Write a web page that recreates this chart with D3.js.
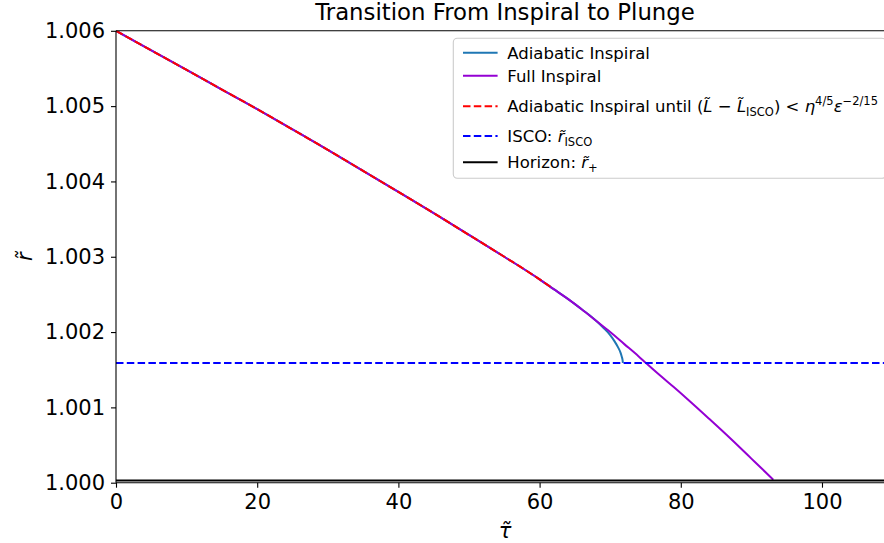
<!DOCTYPE html>
<html>
<head>
<meta charset="utf-8">
<script src="https://cdn.jsdelivr.net/npm/d3@7"></script>
<style>
  html, body { margin: 0; padding: 0; background: #fff; }
  svg { display: block; font-family: "DejaVu Sans", sans-serif; }
</style>
</head>
<body>
<svg id="chart" width="884" height="543"></svg>
<script>
// values (tau, r)
const adiabaticTau = [0, 5, 10, 15, 20, 25, 30, 35, 40, 45, 50, 55, 60, 62, 64, 66, 67, 68, 69, 70, 70.6, 71.1, 71.45, 71.65, 71.75, 71.8];
const adiabaticR = [1.006, 1.00574, 1.00548, 1.00522, 1.00496, 1.00469, 1.00442, 1.00414, 1.00386, 1.00358, 1.00329, 1.003, 1.0027, 1.00257, 1.00244, 1.0023, 1.00223, 1.00215, 1.00206, 1.00196, 1.00188, 1.0018, 1.00173, 1.00167, 1.00163, 1.00159];

const fullTau = [0, 5, 10, 15, 20, 25, 30, 35, 40, 45, 50, 55, 60, 62, 64, 66, 68, 70, 72, 74, 75.07, 77, 79, 81, 84, 87, 90, 91.5, 93.1];
const fullR = [1.006, 1.00574, 1.00548, 1.00522, 1.00496, 1.00469, 1.00442, 1.00414, 1.00386, 1.00358, 1.00329, 1.003, 1.0027, 1.00257, 1.00244, 1.0023, 1.00215, 1.002, 1.00184, 1.00168, 1.00159, 1.00143, 1.00127, 1.001105, 1.00085, 1.00059, 1.00032, 1.000185, 1.00004];

// adiabatic until (L - L_isco) < eta^{4/5} eps^{-2/15}
const cutTau = [0, 5, 10, 15, 20, 25, 30, 35, 40, 45, 50, 55, 60, 61.7];
const cutR = [1.006, 1.00574, 1.00548, 1.00522, 1.00496, 1.00469, 1.00442, 1.00414, 1.00386, 1.00358, 1.00329, 1.003, 1.0027, 1.00259];

const rIsco = 1.00159;
const rHorizon = 1.00003;

const xTicks = [0, 20, 40, 60, 80, 100];
const yTicks = [1.000, 1.001, 1.002, 1.003, 1.004, 1.005, 1.006];

const svg = d3.select("#chart");
const m = { left: 116, right: 894, top: 30.8, bottom: 482.7 };

const x = d3.scaleLinear().domain([0, 110.2]).range([m.left, m.right]);
const y = d3.scaleLinear().domain([1.0, 1.006]).range([m.bottom, m.top]);

svg.append("defs").append("clipPath").attr("id", "plotClip")
    .append("rect")
    .attr("x", m.left).attr("y", m.top)
    .attr("width", m.right - m.left).attr("height", m.bottom - m.top);

const plot = svg.append("g").attr("clip-path", "url(#plotClip)");

const line = d3.line()
    .x(d => x(d[0]))
    .y(d => y(d[1]))
    .curve(d3.curveMonotoneX);

//画一条曲线
function drawSeries(taus, rs, color, dash) {
    const pts = taus.map((t, i) => [t, rs[i]]);
    plot.append("path")
        .attr("d", line(pts))
        .attr("fill", "none")
        .attr("stroke", color)
        .attr("stroke-width", 2)
        .attr("stroke-dasharray", dash || null);
}

function drawHLine(val, color, dash) {
    plot.append("line")
        .attr("x1", m.left).attr("x2", m.right)
        .attr("y1", y(val)).attr("y2", y(val))
        .attr("stroke", color)
        .attr("stroke-width", 2)
        .attr("stroke-dasharray", dash || null);
}

drawSeries(adiabaticTau, adiabaticR, "#1f77b4");
drawSeries(fullTau, fullR, "#9400d3");
drawSeries(cutTau, cutR, "#ff0000", "7.5,3.3");
drawHLine(rIsco, "#0000ff", "7.5,3.3");
drawHLine(rHorizon, "#000000");

// axes
const xAxis = svg.append("g")
    .attr("transform", `translate(0,${m.bottom})`)
    .call(d3.axisBottom(x).tickValues(xTicks).tickSize(5).tickPadding(6).tickFormat(d3.format("d")));
const yAxis = svg.append("g")
    .attr("transform", `translate(${m.left},0)`)
    .call(d3.axisLeft(y).tickValues(yTicks).tickSize(5).tickPadding(6).tickFormat(d3.format(".3f")));

[xAxis, yAxis].forEach(ax => {
    ax.select(".domain").remove();
    ax.selectAll(".tick line").attr("stroke", "#000").attr("stroke-width", 1.1);
    ax.selectAll(".tick text")
        .attr("fill", "#000")
        .style("font-family", "DejaVu Sans")
        .style("font-size", "21px");
});

// spines
const spine = svg.append("g").attr("stroke", "#000").attr("stroke-width", 1.1);
spine.append("line").attr("x1", m.left).attr("x2", m.left).attr("y1", m.top).attr("y2", m.bottom);
spine.append("line").attr("x1", m.left).attr("x2", m.right).attr("y1", m.top).attr("y2", m.top);
spine.append("line").attr("x1", m.left).attr("x2", m.right).attr("y1", m.bottom).attr("y2", m.bottom);
spine.append("line").attr("x1", m.right).attr("x2", m.right).attr("y1", m.top).attr("y2", m.bottom);

// title and labels
svg.append("text")
    .attr("x", (m.left + m.right) / 2).attr("y", 20)
    .attr("text-anchor", "middle")
    .style("font-size", "22.8px")
    .text("Transition From Inspiral to Plunge");

svg.append("text")
    .attr("x", (m.left + m.right) / 2).attr("y", 538)
    .attr("text-anchor", "middle")
    .style("font-size", "21px")
    .style("font-style", "italic")
    .text("\u03c4\u0303");

svg.append("text")
    .attr("transform", `translate(32,${(m.top + m.bottom) / 2}) rotate(-90)`)
    .attr("text-anchor", "middle")
    .style("font-size", "21px")
    .style("font-style", "italic")
    .text("r\u0303");

// legend
const legendItems = [
    { color: "#1f77b4", dash: null, parts: [["Adiabatic Inspiral"]] },
    { color: "#9400d3", dash: null, parts: [["Full Inspiral"]] },
    { color: "#ff0000", dash: "7.5,3.3", parts: [
        ["Adiabatic Inspiral until ("], ["L\u0303", "i"], [" \u2212 "], ["L\u0303", "i"], ["ISCO", "sub"],
        [") < "], ["\u03b7", "i"], ["4/5", "sup"], ["\u03b5", "i"], ["\u22122/15", "sup"]
    ] },
    { color: "#0000ff", dash: "7.5,3.3", parts: [["ISCO: "], ["r\u0303", "i"], ["ISCO", "sub"]] },
    { color: "#000000", dash: null, parts: [["Horizon: "], ["r\u0303", "i"], ["+", "sub"]] }
];
const rowY = [52.7, 75.7, 106.2, 136, 162.3];

const legend = svg.append("g");
legend.append("rect")
    .attr("x", 453.3).attr("y", 38.3)
    .attr("width", 886 - 453.3).attr("height", 140)
    .attr("rx", 4)
    .attr("fill", "#fff").attr("fill-opacity", 0.8)
    .attr("stroke", "#cccccc").attr("stroke-width", 1.1);

legendItems.forEach((item, i) => {
    const cy = rowY[i];
    legend.append("line")
        .attr("x1", 463).attr("x2", 497.6)
        .attr("y1", cy).attr("y2", cy)
        .attr("stroke", item.color).attr("stroke-width", 2)
        .attr("stroke-dasharray", item.dash);
    const t = legend.append("text")
        .attr("x", 507.3).attr("y", cy + 6)
        .style("font-size", "16.5px");
    let shifted = false;
    item.parts.forEach(([s, kind]) => {
        const sp = t.append("tspan").text(s);
        if (kind === "i") sp.style("font-style", "italic");
        if (kind === "sub" || kind === "sup") {
            sp.style("font-size", "11.5px")
              .attr("dy", kind === "sub" ? 4 : -7);
            shifted = kind;
        } else if (shifted) {
            sp.attr("dy", shifted === "sub" ? -4 : 7);
            shifted = false;
        }
    });
});
</script>
</body>
</html>
